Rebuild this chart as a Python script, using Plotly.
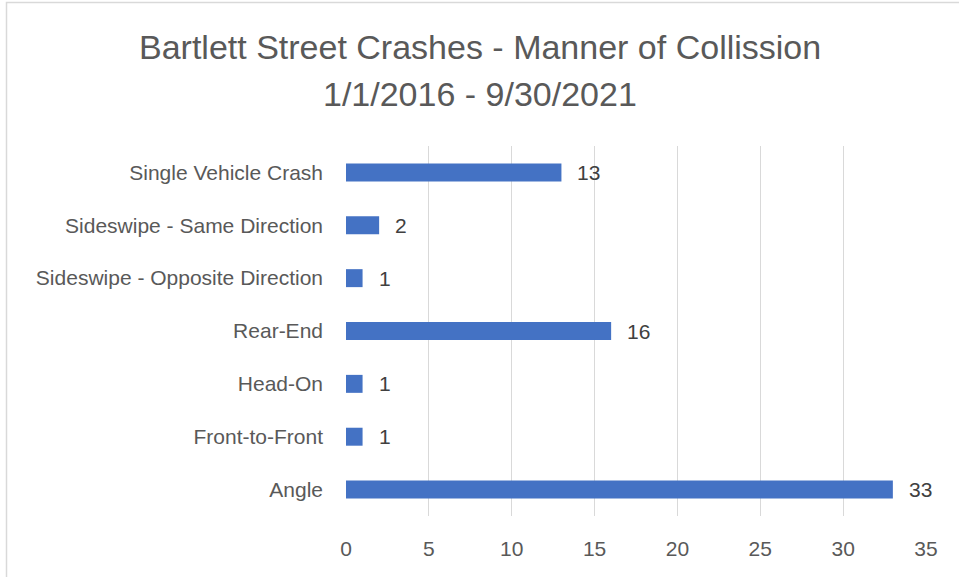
import plotly.graph_objects as go

categories = ["Angle", "Front-to-Front", "Head-On", "Rear-End",
              "Sideswipe - Opposite Direction", "Sideswipe - Same Direction",
              "Single Vehicle Crash"]
counts = [33, 1, 1, 16, 1, 2, 13]
x_ticks = [0, 5, 10, 15, 20, 25, 30, 35]

W, H = 959, 577
ml, mr, mt, mb = 346, 33, 146, 61
pw = W - ml - mr
ph = H - mt - mb

FONT = "Liberation Sans"
GREY = "#595959"

fig = go.Figure(go.Bar(
    y=categories, x=counts, orientation="h",
    marker=dict(color="#4472C4", line=dict(width=0)),
    width=0.34, hoverinfo="x+y",
))

annotations = []
for c, v in zip(categories, counts):
    annotations.append(dict(x=v, y=c, xref="x", yref="y", text=str(v),
                            showarrow=False, xanchor="left", yanchor="middle",
                            xshift=14, font=dict(family=FONT, size=21, color="#404040")))
annotations.append(dict(x=(W / 2 - ml) / pw, y=(H - mb - 47) / ph, xref="paper", yref="paper",
                        text="Bartlett Street Crashes - Manner of Collission",
                        showarrow=False, xanchor="center", yanchor="middle",
                        font=dict(family=FONT, size=34, color=GREY)))
annotations.append(dict(x=(W / 2 - ml) / pw, y=(H - mb - 94) / ph, xref="paper", yref="paper",
                        text="1/1/2016 - 9/30/2021",
                        showarrow=False, xanchor="center", yanchor="middle",
                        font=dict(family=FONT, size=34, color=GREY)))

fig.update_layout(
    width=W, height=H,
    margin=dict(l=ml, r=mr, t=mt, b=mb, pad=0),
    paper_bgcolor="white", plot_bgcolor="white",
    showlegend=False,
    annotations=annotations,
    xaxis=dict(range=[0, 35], tickvals=x_ticks, showgrid=True, gridcolor="#D9D9D9",
               gridwidth=1.3, zeroline=False, showline=False, ticks="",
               tickfont=dict(family=FONT, size=21, color=GREY), ticklabelstandoff=18,
               fixedrange=True),
    yaxis=dict(categoryorder="array", categoryarray=categories, showgrid=False,
               zeroline=False, showline=False, ticks="",
               tickfont=dict(family=FONT, size=21, color=GREY), ticklabelstandoff=22,
               fixedrange=True),
    shapes=[dict(type="rect", xref="paper", yref="paper",
                 x0=(6.5 - ml) / pw, x1=(W + 5 - ml) / pw,
                 y0=(H - mb - (H + 5)) / ph, y1=(H - mb - 2.5) / ph,
                 line=dict(color="#D9D9D9", width=1.5), layer="below")],
)

fig.write_html("out.html", config={"displayModeBar": False},
               post_script="document.body.style.margin='0';document.body.style.overflow='hidden';")
